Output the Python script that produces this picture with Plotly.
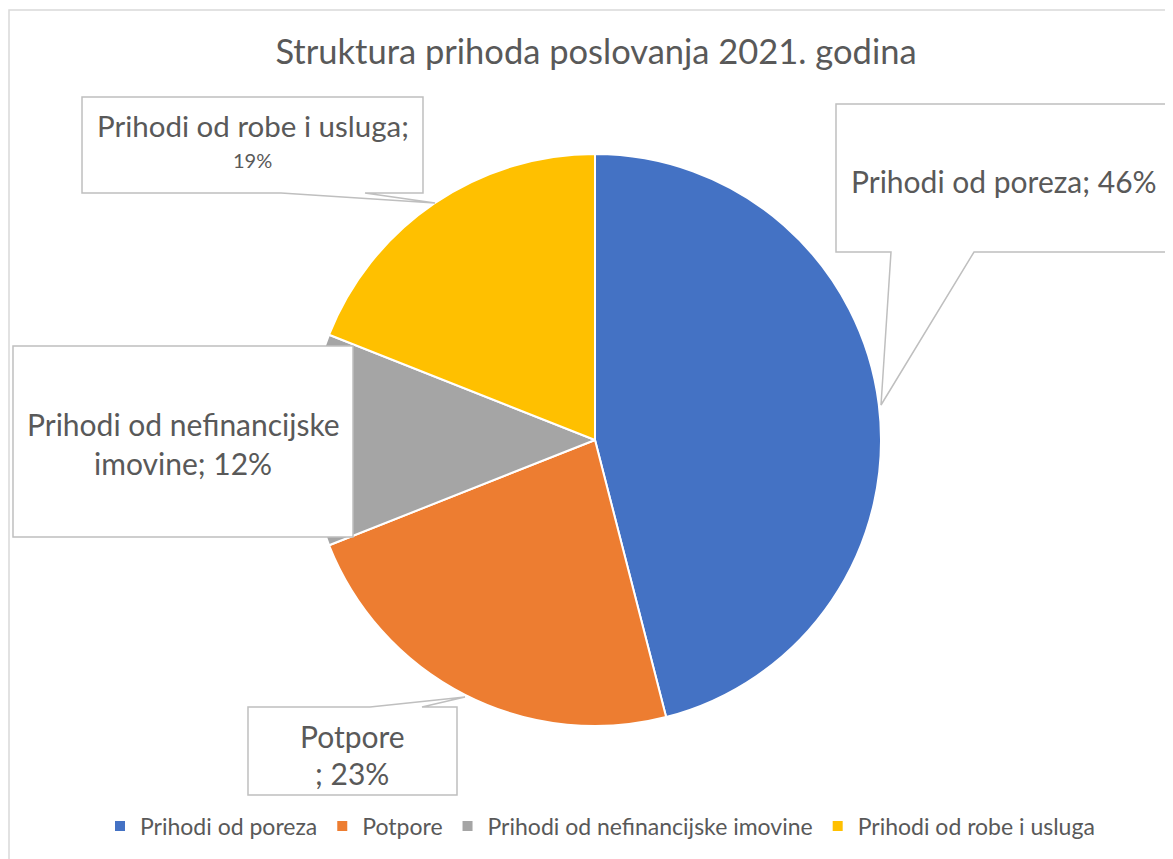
import plotly.graph_objects as go

# ---- data ----
labels = ["Prihodi od poreza", "Potpore", "Prihodi od nefinancijske imovine", "Prihodi od robe i usluga"]
values = [46, 23, 12, 19]
colors = ["#4472C4", "#ED7D31", "#A5A5A5", "#FFC000"]
title_text = "Struktura prihoda poslovanja 2021. godina"

W, H = 1173, 859
OFF = 8  # page body margin
FONT = "Lato"
TXT = "#595959"
BORDER = "#BFBFBF"


def px(x):
    return (x - OFF) / W


def py(y):
    return 1 - (y - OFF) / H


def path(points):
    return "M " + " L ".join(f"{px(x):.5f},{py(y):.5f}" for x, y in points) + " Z"


fig = go.Figure()

cx, cy, r = 595, 440, 286
fig.add_trace(go.Pie(
    labels=labels,
    values=values,
    marker=dict(colors=colors, line=dict(color="white", width=2)),
    sort=False,
    direction="clockwise",
    rotation=0,
    textinfo="none",
    hoverinfo="label+percent",
    domain=dict(x=[px(cx - r), px(cx + r)], y=[py(cy + r), py(cy - r)]),
))

shapes = []
shapes.append(dict(type="rect", xref="paper", yref="paper",
                   x0=px(9), y0=py(870), x1=px(1200), y1=py(10),
                   line=dict(color="#D9D9D9", width=1.5), fillcolor="rgba(0,0,0,0)", layer="below"))

callouts = [
    [(836, 104), (1168, 104), (1168, 252), (974, 252), (881, 405), (891, 252), (836, 252)],
    [(82, 97), (423, 97), (423, 193), (365, 193), (435, 203), (281, 193), (82, 193)],
    [(13, 346), (353, 346), (353, 537), (13, 537)],
    [(248, 707), (370, 707), (465, 697), (422, 707), (457, 707), (457, 795), (248, 795)],
]
for pts in callouts:
    shapes.append(dict(type="path", xref="paper", yref="paper", path=path(pts),
                       fillcolor="white", line=dict(color=BORDER, width=1.5), layer="above"))

annotations = [
    dict(text="Prihodi od poreza; 46%", x=1004, y=181, size=30),
    dict(text="Prihodi od robe i usluga;", x=253, y=125, size=29.5),
    dict(text="19%", x=252, y=160, size=20),
    dict(text="Prihodi od nefinancijske", x=183, y=424, size=30),
    dict(text="imovine; 12%", x=183, y=463, size=30),
    dict(text="Potpore", x=352, y=736, size=30),
    dict(text="; 23%", x=352, y=773, size=30),
]
ann = []
for a in annotations:
    ann.append(dict(text=a["text"], x=px(a["x"]), y=py(a["y"]), xref="paper", yref="paper",
                    xanchor="center", yanchor="middle", showarrow=False,
                    font=dict(family=FONT, size=a["size"], color=TXT)))

fig.update_layout(
    width=W, height=H,
    margin=dict(l=0, r=0, t=0, b=0),
    paper_bgcolor="white",
    plot_bgcolor="white",
    title=dict(text=title_text, x=px(596), xanchor="center", y=py(52), yanchor="middle",
               font=dict(family=FONT, size=34.5, color=TXT)),
    showlegend=True,
    legend=dict(orientation="h", x=px(600), xanchor="center", y=py(826), yanchor="middle",
                font=dict(family=FONT, size=23, color=TXT), traceorder="normal"),
    shapes=shapes,
    annotations=ann,
)

fig.write_html("out.html")
